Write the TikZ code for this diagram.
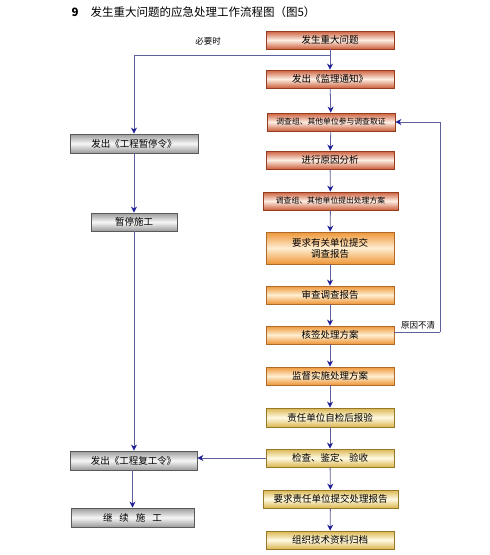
\documentclass[tikz,border=0pt]{standalone}
\usepackage{fontspec}
\setmainfont{Noto Sans CJK SC}
\usepackage{xcolor}
\usepackage{tikz}
\usetikzlibrary{arrows.meta, positioning, shapes}
\definecolor{redtop}{RGB}{205, 95, 60}
\definecolor{redmid}{RGB}{253, 238, 228}
\definecolor{redline}{RGB}{150, 60, 30}
\definecolor{orangetop}{RGB}{238, 150, 55}
\definecolor{orangemid}{RGB}{254, 238, 210}
\definecolor{orangeline}{RGB}{175, 105, 40}
\definecolor{yellowtop}{RGB}{218, 182, 80}
\definecolor{yellowmid}{RGB}{255, 250, 228}
\definecolor{yellowline}{RGB}{150, 120, 40}
\definecolor{graytop}{RGB}{155, 155, 155}
\definecolor{graymid}{RGB}{246, 246, 246}
\definecolor{grayline}{RGB}{90, 90, 90}
\definecolor{tipblue}{RGB}{30, 30, 150}
\definecolor{lineblue}{RGB}{95, 95, 155}

\begin{document}
\begin{tikzpicture}[
    x=1pt, y=-1pt,
    box/.style={rectangle, draw, line width=0.8pt, minimum width=128pt, minimum height=18pt, inner sep=1pt, font=\fontsize{9.5}{11}\selectfont},
    redbox/.style={box, draw=redline, top color=redtop, bottom color=redtop, middle color=redmid},
    orangebox/.style={box, draw=orangeline, top color=orangetop, bottom color=orangetop, middle color=orangemid},
    yellowbox/.style={box, draw=yellowline, top color=yellowtop, bottom color=yellowtop, middle color=yellowmid},
    graybox/.style={box, draw=grayline, top color=graytop, bottom color=graytop, middle color=graymid},
    small/.style={font=\fontsize{7.8}{9}\selectfont},
    arrow/.style={-{Stealth[length=6pt, width=6pt, color=tipblue]}, draw=lineblue, line width=0.8pt},
    link/.style={draw=lineblue, line width=0.8pt}
]
    \useasboundingbox (0,0) rectangle (490,555);

    % Title
    \node[anchor=west, font=\fontsize{11.5}{13}\selectfont] (title) at (68,12) {\textbf{9}\hspace{12pt}发生重大问题的应急处理工作流程图（图5）};

    % Main column
    \node[redbox] (occur) at (330,40) {发生重大问题};
    \node[redbox] (notice) at (330,79) {发出《监理通知》};
    \node[redbox, small] (survey) at (331,122) {调查组、其他单位参与调查取证};
    \node[redbox] (analyse) at (330,160) {进行原因分析};
    \node[redbox, small, minimum width=135pt] (propose) at (330.5,201) {调查组、其他单位提出处理方案};
    \node[orangebox, minimum height=32pt, align=center] (demand) at (330,248) {要求有关单位提交\\调查报告};
    \node[orangebox] (review) at (330,295) {审查调查报告};
    \node[orangebox] (sign) at (330,335) {核签处理方案};
    \node[orangebox] (supervise) at (330,376) {监督实施处理方案};
    \node[yellowbox, minimum height=19pt] (selfcheck) at (330,417.5) {责任单位自检后报验};
    \node[yellowbox] (inspect) at (330,458) {检查、鉴定、验收};
    \node[yellowbox, minimum width=135pt] (report) at (330.5,499) {要求责任单位提交处理报告};
    \node[yellowbox] (archive) at (330,540) {组织技术资料归档};

    % Side column
    \node[graybox, minimum height=19pt] (stoporder) at (134,143.5) {发出《工程暂停令》};
    \node[graybox, minimum width=86pt] (stopwork) at (134,222) {暂停施工};
    \node[graybox, minimum width=127pt, minimum height=19pt] (resume) at (133.5,460.5) {发出《工程复工令》};
    \node[graybox, minimum width=123pt, minimum height=19pt] (goon) at (132.5,517.5) {继\hspace{7pt}续\hspace{7pt}施\hspace{7pt}工};

    % Arrows down the main column
    \draw[arrow] (occur) -- (notice);
    \draw[arrow] (notice) -- (survey);
    \draw[arrow] (survey) -- (analyse);
    \draw[arrow] (analyse) -- (propose);
    \draw[arrow] (propose) -- (demand);
    \draw[arrow] (demand) -- (review);
    \draw[arrow] (review) -- (sign);
    \draw[arrow] (sign) -- (supervise);
    \draw[arrow] (supervise) -- (selfcheck);
    \draw[arrow] (selfcheck) -- (inspect);
    \draw[arrow] (inspect) -- (report);
    \draw[arrow] (report) -- (archive);

    % Branch to the side column
    \coordinate (split) at (330,55);
    \draw[arrow] (split) -| (stoporder.north);
    \node[font=\fontsize{8.5}{10}\selectfont] (needed) at (208,41) {必要时};
    \draw[arrow] (stoporder) -- (stopwork);
    \draw[arrow] (stopwork) -- (stopwork |- resume.north);
    \draw[arrow] (inspect.west) -- (resume.east |- inspect.west);
    \draw[arrow] (resume.south -| goon.north) -- (goon.north);

    % Feedback loop
    \coordinate (back) at (440,332);
    \draw[link] (sign.east |- back) -- (back);
    \draw[arrow] (back) |- (survey.east);
    \node[font=\fontsize{8.5}{10}\selectfont, anchor=south] (unclear) at (418,333) {原因不清};
\end{tikzpicture}
\end{document}
